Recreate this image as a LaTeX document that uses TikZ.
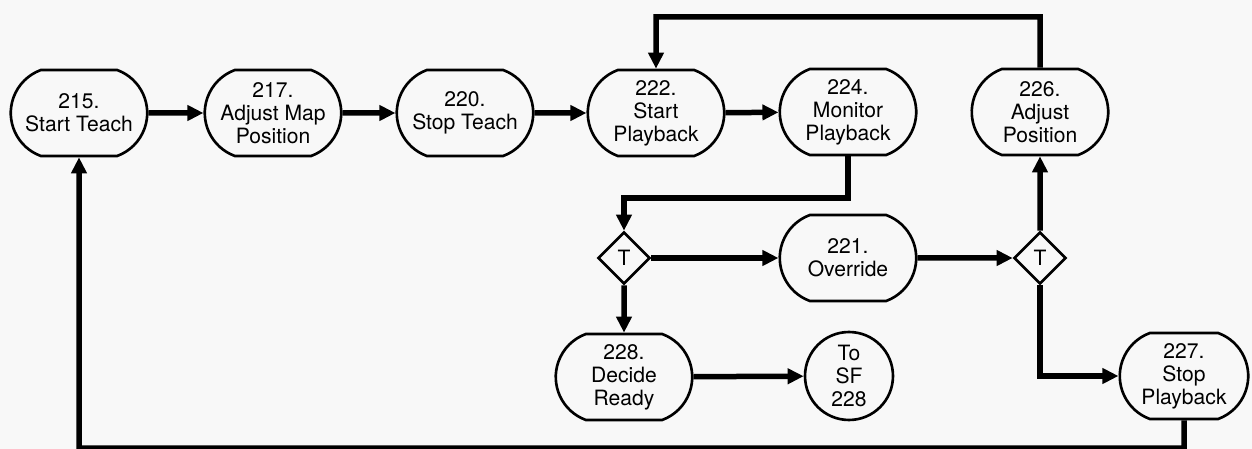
\documentclass[tikz,border=0pt]{standalone}
\usepackage{fontspec}
\setmainfont{TeX Gyre Heros}
\usetikzlibrary{shapes.misc,shapes.geometric,arrows.meta}
\definecolor{paper}{RGB}{248,248,248}
\begin{document}
\begin{tikzpicture}[x=0.02cm,y=-0.02cm,
  task/.style={draw,rounded rectangle,rounded rectangle arc length=140,line width=1.5pt,minimum width=2.8cm,minimum height=1.72cm,align=center,inner sep=1pt,font=\fontsize{12}{13}\selectfont},
  test/.style={draw,diamond,line width=1.5pt,minimum width=1.04cm,minimum height=1.04cm,inner sep=0pt,font=\fontsize{12}{13}\selectfont},
  offpage/.style={draw,circle,line width=1.5pt,minimum size=1.76cm,inner sep=0pt,align=center,font=\fontsize{12}{13}\selectfont},
  flow/.style={line width=0.11cm,-{Triangle[length=0.32cm,width=0.3cm]}}]
\fill[paper] (0,0) rectangle (1252,449);
\useasboundingbox (0,0) rectangle (1252,449);
\node[task] (n215) at (79,113) {215.\\Start Teach};
\node[task] (n217) at (273,113) {217.\\Adjust Map\\Position};
\node[task] (n220) at (465,113) {220.\\Stop Teach};
\node[task] (n222) at (656,113) {222.\\Start\\Playback};
\node[task] (n224) at (848,112) {224.\\Monitor\\Playback};
\node[task] (n226) at (1040,112) {226.\\Adjust\\Position};
\node[test] (d1) at (624,258) {T};
\node[task] (n221) at (848,258) {221.\\Override};
\node[test] (d2) at (1040,258) {T};
\node[task] (n228) at (624,377) {228.\\Decide\\Ready};
\node[offpage] (sf) at (849,376) {To\\SF\\228};
\node[task,minimum width=2.64cm] (n227) at (1184,376) {227.\\Stop\\Playback};
\coordinate (top) at (656,17);
\coordinate (mid) at (624,198);
\coordinate (low) at (79,448);
\draw[flow] (n215) -- (n217);
\draw[flow] (n217) -- (n220);
\draw[flow] (n220) -- (n222);
\draw[flow] (n222) -- (n224);
\draw[flow] (n226) |- (top) -- (n222);
\draw[flow] (n224) |- (mid) -- (d1);
\draw[flow] (d1) -- (n221);
\draw[flow] (n221) -- (d2);
\draw[flow] (d2) -- (n226);
\draw[flow] (d2) |- (n227);
\draw[flow] (d1) -- (n228);
\draw[flow] (n228) -- (sf);
\draw[flow] (n227) |- (low) -- (n215);
\end{tikzpicture}
\end{document}
